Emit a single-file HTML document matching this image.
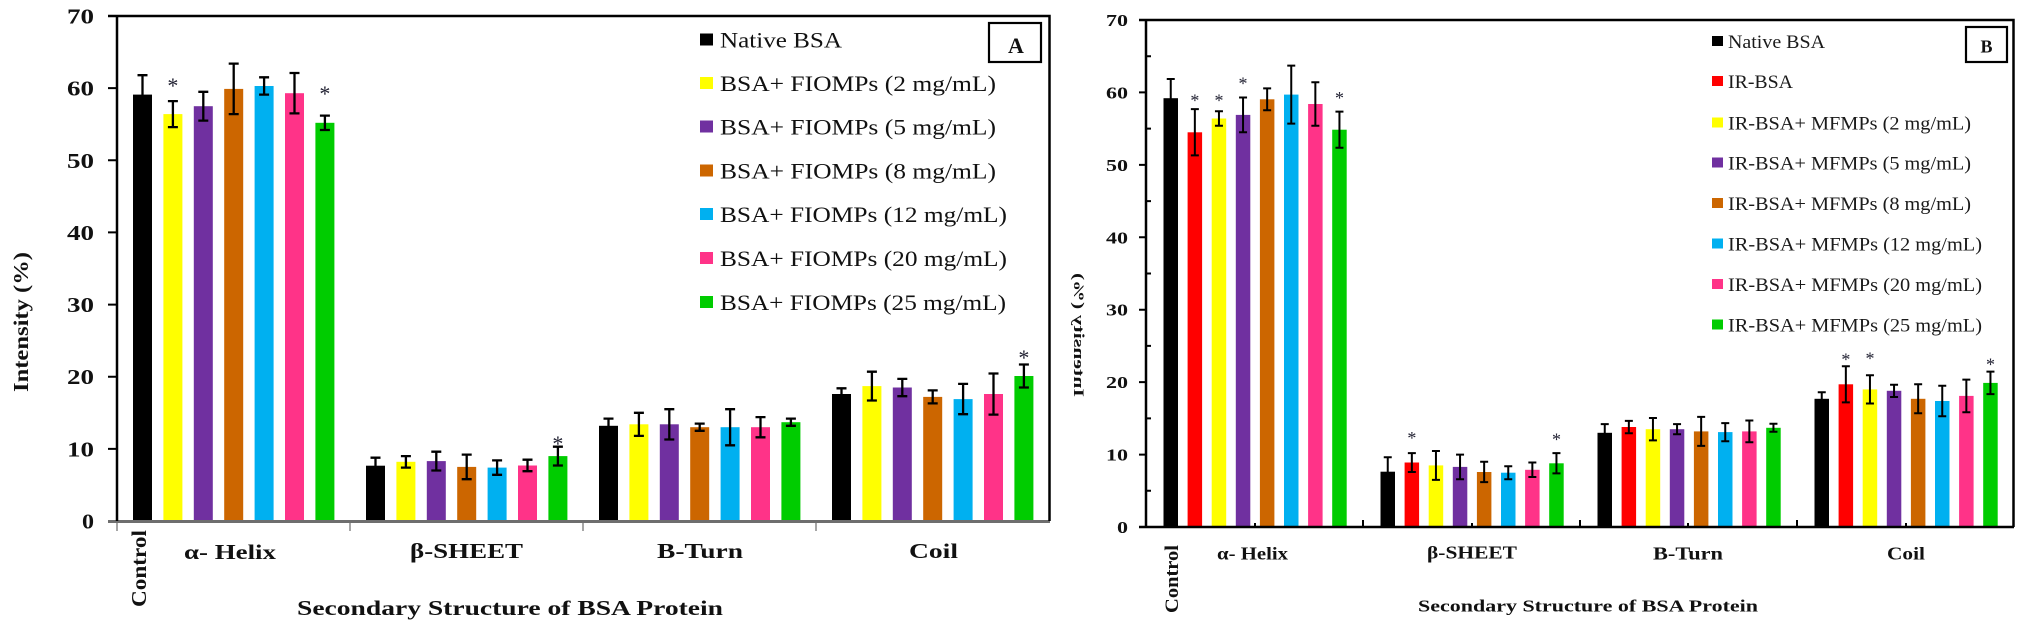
<!DOCTYPE html>
<html>
<head>
<meta charset="utf-8">
<style>
html,body{margin:0;padding:0;background:#fff;}
svg{display:block;}
text{font-family:"Liberation Serif",serif;}
.b{font-weight:bold;}
</style>
</head>
<body>
<svg width="2022" height="628" viewBox="0 0 2022 628" xmlns="http://www.w3.org/2000/svg">
<rect x="0" y="0" width="2022" height="628" fill="#fff"/>

<!-- ================= PANEL A ================= -->
<!-- bars group 1 -->
<g>
<rect x="133" y="94.6" width="19" height="426.4" fill="#000"/>
<rect x="163.4" y="114.1" width="19" height="406.9" fill="#FFFF00"/>
<rect x="193.8" y="106.2" width="19" height="414.8" fill="#7030A0"/>
<rect x="224.2" y="88.9" width="19" height="432.1" fill="#CC6600"/>
<rect x="254.6" y="86" width="19" height="435" fill="#00B0F0"/>
<rect x="285" y="93.2" width="19" height="427.8" fill="#FF3388"/>
<rect x="315.4" y="122.8" width="19" height="398.2" fill="#00CC00"/>
<!-- group 2 -->
<rect x="366" y="465.7" width="19" height="55.3" fill="#000"/>
<rect x="396.4" y="461.8" width="19" height="59.2" fill="#FFFF00"/>
<rect x="426.8" y="461.1" width="19" height="59.9" fill="#7030A0"/>
<rect x="457.2" y="466.9" width="19" height="54.1" fill="#CC6600"/>
<rect x="487.6" y="467.6" width="19" height="53.4" fill="#00B0F0"/>
<rect x="518" y="465.5" width="19" height="55.5" fill="#FF3388"/>
<rect x="548.4" y="456.1" width="19" height="64.9" fill="#00CC00"/>
<!-- group 3 -->
<rect x="599" y="425.8" width="19" height="95.2" fill="#000"/>
<rect x="629.4" y="424.3" width="19" height="96.7" fill="#FFFF00"/>
<rect x="659.8" y="424.3" width="19" height="96.7" fill="#7030A0"/>
<rect x="690.2" y="427.2" width="19" height="93.8" fill="#CC6600"/>
<rect x="720.6" y="427.2" width="19" height="93.8" fill="#00B0F0"/>
<rect x="751" y="427.2" width="19" height="93.8" fill="#FF3388"/>
<rect x="781.4" y="422.2" width="19" height="98.8" fill="#00CC00"/>
<!-- group 4 -->
<rect x="832" y="394" width="19" height="127" fill="#000"/>
<rect x="862.4" y="386.1" width="19" height="134.9" fill="#FFFF00"/>
<rect x="892.8" y="387.5" width="19" height="133.5" fill="#7030A0"/>
<rect x="923.2" y="396.9" width="19" height="124.1" fill="#CC6600"/>
<rect x="953.6" y="399.1" width="19" height="121.9" fill="#00B0F0"/>
<rect x="984" y="394" width="19" height="127" fill="#FF3388"/>
<rect x="1014.4" y="376" width="19" height="145" fill="#00CC00"/>
</g>

<!-- error bars A -->
<path fill="none" stroke="#000" stroke-width="2.3" d="
M137.5 75.2H147.5M142.5 75.2V114.1M137.5 114.1H147.5
M167.9 101.1H177.9M172.9 101.1V127.1M167.9 127.1H177.9
M198.3 91.8H208.3M203.3 91.8V120.6M198.3 120.6H208.3
M228.7 63.6H238.7M233.7 63.6V114.1M228.7 114.1H238.7
M259.1 77.3H269.1M264.1 77.3V94.6M259.1 94.6H269.1
M289.5 73H299.5M294.5 73V113.4M289.5 113.4H299.5
M319.9 115.6H329.9M324.9 115.6V130M319.9 130H329.9
M370.5 457.7H380.5M375.5 457.7V473.6M370.5 473.6H380.5
M400.9 456.1H410.9M405.9 456.1V467.6M400.9 467.6H410.9
M431.3 451.7H441.3M436.3 451.7V470.5M431.3 470.5H441.3
M461.7 454.6H471.7M466.7 454.6V479.2M461.7 479.2H471.7
M492.1 460.4H502.1M497.1 460.4V474.8M492.1 474.8H502.1
M522.5 459.7H532.5M527.5 459.7V471.2M522.5 471.2H532.5
M552.9 446.7H562.9M557.9 446.7V465.5M552.9 465.5H562.9
M603.5 418.6H613.5M608.5 418.6V433M603.5 433H613.5
M633.9 412.8H643.9M638.9 412.8V435.9M633.9 435.9H643.9
M664.3 409.2H674.3M669.3 409.2V439.5M664.3 439.5H674.3
M694.7 423.6H704.7M699.7 423.6V430.8M694.7 430.8H704.7
M725.1 409.2H735.1M730.1 409.2V445.3M725.1 445.3H735.1
M755.5 417.1H765.5M760.5 417.1V437.3M755.5 437.3H765.5
M785.9 418.6H795.9M790.9 418.6V425.8M785.9 425.8H795.9
M836.5 388.3H846.5M841.5 388.3V399.8M836.5 399.8H846.5
M866.9 371.7H876.9M871.9 371.7V400.5M866.9 400.5H876.9
M897.3 378.9H907.3M902.3 378.9V396.2M897.3 396.2H907.3
M927.7 390.4H937.7M932.7 390.4V403.4M927.7 403.4H937.7
M958.1 383.9H968.1M963.1 383.9V414.2M958.1 414.2H968.1
M988.5 373.5H998.5M993.5 373.5V414.6M988.5 414.6H998.5
M1018.9 364.5H1028.9M1023.9 364.5V387.5M1018.9 387.5H1028.9"/>

<!-- stars A -->
<g font-size="22" fill="#223" text-anchor="middle">
<text x="172.9" y="93">*</text>
<text x="324.9" y="101">*</text>
<text x="557.9" y="451">*</text>
<text x="1023.9" y="365">*</text>
</g>

<!-- axes A -->
<line x1="108" y1="521.5" x2="1050" y2="521.5" stroke="#6e6e6e" stroke-width="3"/>
<path fill="none" stroke="#000" stroke-width="2.5" d="M108 16H1049.5V521M117 16V521"/>
<path fill="none" stroke="#000" stroke-width="2" d="M108 88.1H117M108 160.3H117M108 232.4H117M108 304.6H117M108 376.7H117M108 448.9H117"/>
<path fill="none" stroke="#888" stroke-width="1.5" d="M117 523V531M350 523V531M583 523V531M816 523V531"/>

<!-- tick labels A -->
<g class="b" font-size="21" fill="#111">
<text x="67" y="23.5" textLength="27" lengthAdjust="spacingAndGlyphs">70</text>
<text x="67" y="95.6" textLength="27" lengthAdjust="spacingAndGlyphs">60</text>
<text x="67" y="167.8" textLength="27" lengthAdjust="spacingAndGlyphs">50</text>
<text x="67" y="239.9" textLength="27" lengthAdjust="spacingAndGlyphs">40</text>
<text x="67" y="312.1" textLength="27" lengthAdjust="spacingAndGlyphs">30</text>
<text x="67" y="384.2" textLength="27" lengthAdjust="spacingAndGlyphs">20</text>
<text x="67" y="456.4" textLength="27" lengthAdjust="spacingAndGlyphs">10</text>
<text x="82" y="528.5" textLength="12" lengthAdjust="spacingAndGlyphs">0</text>
</g>

<!-- y label A -->
<text class="b" font-size="21" fill="#111" text-anchor="middle" transform="translate(28,322) rotate(-90)" textLength="140" lengthAdjust="spacingAndGlyphs">Intensity (%)</text>
<!-- Control A -->
<text class="b" font-size="21" fill="#111" text-anchor="middle" transform="translate(146,568.5) rotate(-90)" textLength="77" lengthAdjust="spacingAndGlyphs">Control</text>

<!-- category labels A -->
<g class="b" font-size="21" fill="#111">
<text x="184" y="559" textLength="92" lengthAdjust="spacingAndGlyphs">α- Helix</text>
<text x="410" y="558" textLength="113" lengthAdjust="spacingAndGlyphs">β-SHEET</text>
<text x="657" y="558" textLength="86" lengthAdjust="spacingAndGlyphs">B-Turn</text>
<text x="909" y="558" textLength="49" lengthAdjust="spacingAndGlyphs">Coil</text>
<text x="297" y="615" textLength="426" lengthAdjust="spacingAndGlyphs">Secondary Structure of BSA Protein</text>
</g>

<!-- legend A -->
<g>
<rect x="700" y="33.5" width="13" height="12" fill="#000"/>
<rect x="700" y="77" width="13" height="12" fill="#FFFF00"/>
<rect x="700" y="120.5" width="13" height="12" fill="#7030A0"/>
<rect x="700" y="164.5" width="13" height="12" fill="#CC6600"/>
<rect x="700" y="208" width="13" height="12" fill="#00B0F0"/>
<rect x="700" y="252" width="13" height="12" fill="#FF3388"/>
<rect x="700" y="296" width="13" height="12" fill="#00CC00"/>
</g>
<g font-size="22" fill="#111">
<text x="720" y="47.5" textLength="122" lengthAdjust="spacingAndGlyphs">Native BSA</text>
<text x="720" y="91" textLength="276" lengthAdjust="spacingAndGlyphs">BSA+ FIOMPs (2 mg/mL)</text>
<text x="720" y="134.5" textLength="276" lengthAdjust="spacingAndGlyphs">BSA+ FIOMPs (5 mg/mL)</text>
<text x="720" y="178.5" textLength="276" lengthAdjust="spacingAndGlyphs">BSA+ FIOMPs (8 mg/mL)</text>
<text x="720" y="222" textLength="287" lengthAdjust="spacingAndGlyphs">BSA+ FIOMPs (12 mg/mL)</text>
<text x="720" y="266" textLength="287" lengthAdjust="spacingAndGlyphs">BSA+ FIOMPs (20 mg/mL)</text>
<text x="720" y="310" textLength="286" lengthAdjust="spacingAndGlyphs">BSA+ FIOMPs (25 mg/mL)</text>
</g>

<!-- box A -->
<rect x="989" y="23" width="52" height="39" fill="#fff" stroke="#000" stroke-width="2.2"/>
<text class="b" font-size="22" fill="#111" text-anchor="middle" x="1016" y="53">A</text>

<!-- ================= PANEL B ================= -->
<g>
<!-- group 1 -->
<rect x="1163.5" y="98.2" width="14.5" height="428.8" fill="#000"/>
<rect x="1187.6" y="132.3" width="14.5" height="394.7" fill="#FF0000"/>
<rect x="1211.7" y="118.5" width="14.5" height="408.5" fill="#FFFF00"/>
<rect x="1235.8" y="114.9" width="14.5" height="412.1" fill="#7030A0"/>
<rect x="1259.9" y="99.3" width="14.5" height="427.7" fill="#CC6600"/>
<rect x="1284" y="94.6" width="14.5" height="432.4" fill="#00B0F0"/>
<rect x="1308.1" y="104" width="14.5" height="423" fill="#FF3388"/>
<rect x="1332.2" y="129.7" width="14.5" height="397.3" fill="#00CC00"/>
<!-- group 2 -->
<rect x="1380.5" y="471.7" width="14.5" height="55.3" fill="#000"/>
<rect x="1404.6" y="462.5" width="14.5" height="64.5" fill="#FF0000"/>
<rect x="1428.7" y="465.4" width="14.5" height="61.6" fill="#FFFF00"/>
<rect x="1452.8" y="466.9" width="14.5" height="60.1" fill="#7030A0"/>
<rect x="1476.9" y="472" width="14.5" height="55" fill="#CC6600"/>
<rect x="1501" y="472.7" width="14.5" height="54.3" fill="#00B0F0"/>
<rect x="1525.1" y="469.8" width="14.5" height="57.2" fill="#FF3388"/>
<rect x="1549.2" y="463.3" width="14.5" height="63.7" fill="#00CC00"/>
<!-- group 3 -->
<rect x="1597.5" y="432.8" width="14.5" height="94.2" fill="#000"/>
<rect x="1621.6" y="427" width="14.5" height="100" fill="#FF0000"/>
<rect x="1645.7" y="429.2" width="14.5" height="97.8" fill="#FFFF00"/>
<rect x="1669.8" y="429.2" width="14.5" height="97.8" fill="#7030A0"/>
<rect x="1693.9" y="431.4" width="14.5" height="95.6" fill="#CC6600"/>
<rect x="1718" y="432.1" width="14.5" height="94.9" fill="#00B0F0"/>
<rect x="1742.1" y="431.4" width="14.5" height="95.6" fill="#FF3388"/>
<rect x="1766.2" y="427.8" width="14.5" height="99.2" fill="#00CC00"/>
<!-- group 4 -->
<rect x="1814.5" y="398.8" width="14.5" height="128.2" fill="#000"/>
<rect x="1838.6" y="384.3" width="14.5" height="142.7" fill="#FF0000"/>
<rect x="1862.7" y="389.4" width="14.5" height="137.6" fill="#FFFF00"/>
<rect x="1886.8" y="390.8" width="14.5" height="136.2" fill="#7030A0"/>
<rect x="1910.9" y="398.8" width="14.5" height="128.2" fill="#CC6600"/>
<rect x="1935" y="401" width="14.5" height="126" fill="#00B0F0"/>
<rect x="1959.1" y="395.9" width="14.5" height="131.1" fill="#FF3388"/>
<rect x="1983.2" y="382.9" width="14.5" height="144.1" fill="#00CC00"/>
</g>

<!-- error bars B -->
<path fill="none" stroke="#000" stroke-width="2" d="
M1166.75 79H1174.75M1170.75 79V117.4M1166.75 117.4H1174.75
M1190.85 109.1H1198.85M1194.85 109.1V155.4M1190.85 155.4H1198.85
M1214.95 111.3H1222.95M1218.95 111.3V125.7M1214.95 125.7H1222.95
M1239.05 97.5H1247.05M1243.05 97.5V132.3M1239.05 132.3H1247.05
M1263.15 88.4H1271.15M1267.15 88.4V110.2M1263.15 110.2H1271.15
M1287.25 65.6H1295.25M1291.25 65.6V123.6M1287.25 123.6H1295.25
M1311.35 82.3H1319.35M1315.35 82.3V125.7M1311.35 125.7H1319.35
M1335.45 111.6H1343.45M1339.45 111.6V147.8M1335.45 147.8H1343.45
M1383.75 457.2H1391.75M1387.75 457.2V486.1M1383.75 486.1H1391.75
M1407.85 453.1H1415.85M1411.85 453.1V472M1407.85 472H1415.85
M1431.95 451H1439.95M1435.95 451V479.9M1431.95 479.9H1439.95
M1456.05 454.6H1464.05M1460.05 454.6V479.2M1456.05 479.2H1464.05
M1480.15 461.8H1488.15M1484.15 461.8V482.1M1480.15 482.1H1488.15
M1504.25 466.2H1512.25M1508.25 466.2V479.2M1504.25 479.2H1512.25
M1528.35 462.5H1536.35M1532.35 462.5V477M1528.35 477H1536.35
M1552.45 453.1H1560.45M1556.45 453.1V473.4M1552.45 473.4H1560.45
M1600.75 424.1H1608.75M1604.75 424.1V441.5M1600.75 441.5H1608.75
M1624.85 420.9H1632.85M1628.85 420.9V433.2M1624.85 433.2H1632.85
M1648.95 418H1656.95M1652.95 418V440.4M1648.95 440.4H1656.95
M1673.05 424.1H1681.05M1677.05 424.1V434.3M1673.05 434.3H1681.05
M1697.15 416.9H1705.15M1701.15 416.9V445.9M1697.15 445.9H1705.15
M1721.25 423.1H1729.25M1725.25 423.1V441.2M1721.25 441.2H1729.25
M1745.35 420.5H1753.35M1749.35 420.5V442.3M1745.35 442.3H1753.35
M1769.45 423.8H1777.45M1773.45 423.8V431.8M1769.45 431.8H1777.45
M1817.75 392.3H1825.75M1821.75 392.3V405.3M1817.75 405.3H1825.75
M1841.85 366.2H1849.85M1845.85 366.2V402.4M1841.85 402.4H1849.85
M1865.95 375.3H1873.95M1869.95 375.3V403.5M1865.95 403.5H1873.95
M1890.05 384.7H1898.05M1894.05 384.7V397M1890.05 397H1898.05
M1914.15 384.3H1922.15M1918.15 384.3V413.3M1914.15 413.3H1922.15
M1938.25 385.8H1946.25M1942.25 385.8V416.2M1938.25 416.2H1946.25
M1962.35 379.6H1970.35M1966.35 379.6V412.2M1962.35 412.2H1970.35
M1986.45 371.6H1994.45M1990.45 371.6V394.1M1986.45 394.1H1994.45"/>

<!-- stars B -->
<g font-size="18" fill="#223" text-anchor="middle">
<text x="1194.85" y="106.5">*</text>
<text x="1218.95" y="106.5">*</text>
<text x="1243.05" y="89.5">*</text>
<text x="1339.45" y="104">*</text>
<text x="1411.85" y="444">*</text>
<text x="1556.45" y="445.5">*</text>
<text x="1845.85" y="365.5">*</text>
<text x="1869.95" y="364.5">*</text>
<text x="1990.45" y="370.5">*</text>
</g>

<!-- axes B -->
<path fill="none" stroke="#000" stroke-width="2.5" d="M1139 20H2013.5V527M1146 20V527M1139 527H2014"/>
<path fill="none" stroke="#000" stroke-width="2" d="M1139 92.4H1146M1139 164.9H1146M1139 237.3H1146M1139 309.7H1146M1139 382.1H1146M1139 454.6H1146
M1146 56.2H1151M1146 128.6H1151M1146 201.1H1151M1146 273.5H1151M1146 345.9H1151M1146 418.4H1151M1146 490.8H1151
M1363 527V520M1580 527V520M1797 527V520
M1255 527V523M1472 527V523M1688 527V523M1906 527V523"/>

<!-- tick labels B -->
<g class="b" font-size="17" fill="#111">
<text x="1106" y="26" textLength="22" lengthAdjust="spacingAndGlyphs">70</text>
<text x="1106" y="98.4" textLength="22" lengthAdjust="spacingAndGlyphs">60</text>
<text x="1106" y="170.9" textLength="22" lengthAdjust="spacingAndGlyphs">50</text>
<text x="1106" y="243.3" textLength="22" lengthAdjust="spacingAndGlyphs">40</text>
<text x="1106" y="315.7" textLength="22" lengthAdjust="spacingAndGlyphs">30</text>
<text x="1106" y="388.1" textLength="22" lengthAdjust="spacingAndGlyphs">20</text>
<text x="1106" y="460.6" textLength="22" lengthAdjust="spacingAndGlyphs">10</text>
<text x="1117" y="533" textLength="11" lengthAdjust="spacingAndGlyphs">0</text>
</g>

<!-- y label B (mirrored as in reference) -->
<text class="b" font-size="15" fill="#111" text-anchor="middle" transform="translate(1074,335) scale(-1,1) rotate(-90)" textLength="124" lengthAdjust="spacingAndGlyphs">Intensity (%)</text>
<!-- Control B -->
<text class="b" font-size="19" fill="#111" text-anchor="middle" transform="translate(1178,579) rotate(-90)" textLength="68" lengthAdjust="spacingAndGlyphs">Control</text>

<!-- category labels B -->
<g class="b" font-size="18" fill="#111">
<text x="1217" y="559.5" textLength="71" lengthAdjust="spacingAndGlyphs">α- Helix</text>
<text x="1427" y="558.5" textLength="90" lengthAdjust="spacingAndGlyphs">β-SHEET</text>
<text x="1653" y="559.5" textLength="70" lengthAdjust="spacingAndGlyphs">B-Turn</text>
<text x="1887" y="559.5" textLength="38" lengthAdjust="spacingAndGlyphs">Coil</text>
<text x="1418" y="611.5" font-size="17" textLength="340" lengthAdjust="spacingAndGlyphs">Secondary Structure of BSA Protein</text>
</g>

<!-- legend B -->
<g>
<rect x="1712" y="36" width="11" height="10" fill="#000"/>
<rect x="1712" y="76" width="11" height="10" fill="#FF0000"/>
<rect x="1712" y="117.5" width="11" height="10" fill="#FFFF00"/>
<rect x="1712" y="157.5" width="11" height="10" fill="#7030A0"/>
<rect x="1712" y="198" width="11" height="10" fill="#CC6600"/>
<rect x="1712" y="238.5" width="11" height="10" fill="#00B0F0"/>
<rect x="1712" y="279" width="11" height="10" fill="#FF3388"/>
<rect x="1712" y="319.5" width="11" height="10" fill="#00CC00"/>
</g>
<g font-size="19" fill="#1a1a1a">
<text x="1728" y="48" textLength="97" lengthAdjust="spacingAndGlyphs">Native BSA</text>
<text x="1728" y="88" textLength="65" lengthAdjust="spacingAndGlyphs">IR-BSA</text>
<text x="1728" y="129.5" textLength="243" lengthAdjust="spacingAndGlyphs">IR-BSA+ MFMPs (2 mg/mL)</text>
<text x="1728" y="169.5" textLength="243" lengthAdjust="spacingAndGlyphs">IR-BSA+ MFMPs (5 mg/mL)</text>
<text x="1728" y="210" textLength="243" lengthAdjust="spacingAndGlyphs">IR-BSA+ MFMPs (8 mg/mL)</text>
<text x="1728" y="250.5" textLength="254" lengthAdjust="spacingAndGlyphs">IR-BSA+ MFMPs (12 mg/mL)</text>
<text x="1728" y="291" textLength="254" lengthAdjust="spacingAndGlyphs">IR-BSA+ MFMPs (20 mg/mL)</text>
<text x="1728" y="331.5" textLength="254" lengthAdjust="spacingAndGlyphs">IR-BSA+ MFMPs (25 mg/mL)</text>
</g>

<!-- box B -->
<rect x="1966" y="27" width="41" height="35" fill="#fff" stroke="#000" stroke-width="2.2"/>
<text class="b" font-size="18" fill="#111" text-anchor="middle" x="1986.5" y="52.5">B</text>

</svg>
</body>
</html>
